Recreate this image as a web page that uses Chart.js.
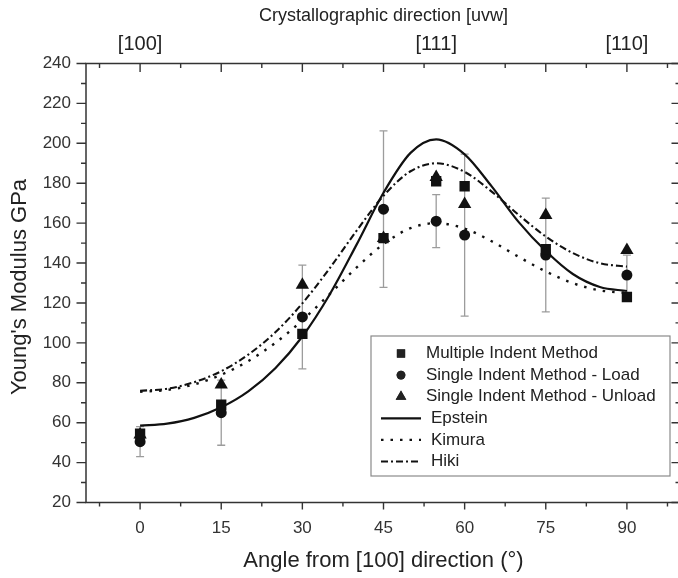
<!DOCTYPE html>
<html>
<head>
<meta charset="utf-8">
<script src="https://cdn.jsdelivr.net/npm/chart.js@4/dist/chart.umd.min.js"></script>
<style>
  html, body { margin: 0; padding: 0; overflow: hidden; background: #fff; }
  canvas { display: block; }
</style>
</head>
<body>
<canvas id="chart" width="690" height="578"></canvas>
<script>
// Angles (degrees from [100]) of the measured points
const pointAngles = [0, 15, 30, 45, 54.74, 60, 75, 90];
const multipleIndent = [54.5, 69, 104.5, 152.5, 181, 178.5, 147, 123];
const singleLoad = [50.5, 65, 113, 167, 161, 154, 144, 134];
const singleLoadErr = [7.5, 16.3, 26, 39.2, 13.3, 40.6, 28.5, 10];
const singleUnload = [54, 79, 129, 152.5, 183, 169.5, 164, 146.5];

// Model curves sampled along the angle
const curveAngles = [0, 5, 10, 15, 20, 25, 30, 35, 40, 45, 50, 54.74, 60, 65, 70, 75, 80, 85, 90];
const epstein = [58.5, 59.5, 62.4, 67.7, 75.7, 87.3, 103.2, 124, 149.1, 175.2, 195.2, 202, 194.5, 178.4, 160.5, 146, 134.5, 128, 126];
const kimura = [75.5, 76.4, 79.2, 84, 90.9, 100, 111.3, 124.3, 137.7, 149.5, 157.5, 160, 157.3, 150.9, 143.1, 135.8, 129.9, 126.3, 125];
const hiki = [76, 77, 80.3, 85.8, 94.1, 105.3, 119.8, 137.2, 156.1, 173.7, 186, 190, 185.7, 175.8, 164.1, 153.3, 145, 139.9, 138.2];

// Axis ticks and labels
const angleTicks = [0, 15, 30, 45, 60, 75, 90];
const directionAngles = [0, 54.74, 90];
const directionLabels = ['[100]', '[111]', '[110]'];

const FONT = '"Liberation Sans", Arial, Helvetica, sans-serif';
const INK = '#222';
const AXIS = '#333';

const pts = (xs, ys) => xs.map((x, i) => ({ x, y: ys[i] }));

// Error bars for the single-indent load data
const errorBars = {
  id: 'errorBars',
  beforeDatasetsDraw(chart) {
    const { ctx, scales: { x, y } } = chart;
    ctx.save();
    ctx.strokeStyle = '#9c9c9c';
    ctx.lineWidth = 1.3;
    pointAngles.forEach((a, i) => {
      const px = x.getPixelForValue(a);
      const lo = y.getPixelForValue(singleLoad[i] - singleLoadErr[i]);
      const hi = y.getPixelForValue(singleLoad[i] + singleLoadErr[i]);
      ctx.beginPath();
      ctx.moveTo(px, lo); ctx.lineTo(px, hi);
      ctx.moveTo(px - 4, lo); ctx.lineTo(px + 4, lo);
      ctx.moveTo(px - 4, hi); ctx.lineTo(px + 4, hi);
      ctx.stroke();
    });
    ctx.restore();
  }
};

// Box frame with major and minor ticks on all four sides
const frame = {
  id: 'frame',
  afterDatasetsDraw(chart) {
    const { ctx, chartArea: a, scales: { x, y } } = chart;
    ctx.save();
    ctx.strokeStyle = AXIS;
    ctx.lineWidth = 1.5;
    ctx.strokeRect(a.left, a.top, a.right - a.left, a.bottom - a.top);
    ctx.lineWidth = 1.4;
    ctx.beginPath();
    for (let v = -7.5; v <= 100; v += 7.5) {
      const major = Math.abs(v % 15) < 1e-9 && v >= 0 && v <= 90;
      const px = x.getPixelForValue(v);
      ctx.moveTo(px, a.bottom); ctx.lineTo(px, a.bottom + (major ? 7 : 4));
      ctx.moveTo(px, a.top); ctx.lineTo(px, a.top + (major ? 8.5 : 4.5));
    }
    for (let v = 20; v <= 240; v += 10) {
      const major = v % 20 === 0;
      const py = y.getPixelForValue(v);
      ctx.moveTo(a.left, py); ctx.lineTo(a.left - (major ? 9.5 : 5), py);
      ctx.moveTo(a.right, py); ctx.lineTo(a.right - (major ? 9.5 : 5.5), py);
    }
    ctx.stroke();
    ctx.restore();
  }
};

// Legend box inside the plot
const boxLegend = {
  id: 'boxLegend',
  afterDatasetsDraw(chart) {
    const { ctx } = chart;
    const left = 371, top = 336, right = 670, bottom = 476;
    ctx.save();
    ctx.fillStyle = '#fff';
    ctx.fillRect(left, top, right - left, bottom - top);
    ctx.strokeStyle = '#8a8a8a';
    ctx.lineWidth = 1.2;
    ctx.strokeRect(left, top, right - left, bottom - top);
    ctx.font = '17px ' + FONT;
    ctx.textBaseline = 'middle';
    ctx.fillStyle = INK;
    chart.data.datasets.forEach((ds, i) => {
      const rowY = 353.5 + i * 21.6;
      if (ds.showLine) {
        ctx.save();
        ctx.strokeStyle = ds.borderColor;
        ctx.lineWidth = ds.borderWidth;
        ctx.setLineDash(ds.borderDash || []);
        ctx.beginPath();
        ctx.moveTo(381, rowY); ctx.lineTo(421, rowY);
        ctx.stroke();
        ctx.restore();
        ctx.fillText(ds.label, 431, rowY);
      } else {
        Chart.helpers.drawPoint(ctx, {
          pointStyle: ds.pointStyle,
          radius: ds.legendRadius,
          borderWidth: 0
        }, 401, rowY);
        ctx.fillStyle = INK;
        ctx.fill();
        ctx.fillText(ds.label, 426, rowY);
      }
    });
    ctx.restore();
  }
};

// Rotated y-axis title
const yTitle = {
  id: 'yTitle',
  afterDraw(chart) {
    const { ctx } = chart;
    ctx.save();
    ctx.translate(20, 287);
    ctx.rotate(-Math.PI / 2);
    ctx.font = '22px ' + FONT;
    ctx.fillStyle = INK;
    ctx.textAlign = 'center';
    ctx.textBaseline = 'middle';
    ctx.fillText("Young's Modulus GPa", 0, 0);
    ctx.restore();
  }
};

const markerSet = (label, ys, style, radius) => ({
  label,
  data: pts(pointAngles, ys),
  showLine: false,
  pointStyle: style,
  pointRadius: radius,
  legendRadius: radius * 0.8,
  pointBackgroundColor: '#111',
  pointBorderColor: '#111',
  pointBorderWidth: 0,
  pointHoverRadius: radius
});

const curveSet = (label, ys, dash, width) => ({
  label,
  data: pts(curveAngles, ys),
  showLine: true,
  pointRadius: 0,
  borderColor: '#111',
  borderWidth: width,
  borderDash: dash,
  cubicInterpolationMode: 'monotone',
  fill: false
});

new Chart(document.getElementById('chart'), {
  type: 'scatter',
  data: {
    datasets: [
      markerSet('Multiple Indent Method', multipleIndent, 'rect', 7.3),
      markerSet('Single Indent Method - Load', singleLoad, 'circle', 5.5),
      markerSet('Single Indent Method - Unload', singleUnload, 'triangle', 7.7),
      curveSet('Epstein', epstein, [], 2.2),
      curveSet('Kimura', kimura, [2.5, 7], 2.4),
      curveSet('Hiki', hiki, [7, 3, 2, 3], 2.1)
    ]
  },
  options: {
    responsive: false,
    animation: false,
    devicePixelRatio: 1,
    layout: { padding: { left: 0, right: 9, top: 0, bottom: 0 } },
    plugins: {
      legend: { display: false },
      tooltip: { enabled: false }
    },
    scales: {
      x: {
        type: 'linear',
        position: 'bottom',
        min: -10,
        max: 100,
        afterBuildTicks: s => { s.ticks = angleTicks.map(v => ({ value: v })); },
        afterFit: s => { s.height = 75.5; },
        grid: { display: false, drawTicks: false },
        border: { display: false },
        ticks: {
          autoSkip: false,
          maxRotation: 0,
          padding: 16,
          color: AXIS,
          font: { family: FONT, size: 17 }
        },
        title: {
          display: true,
          text: 'Angle from [100] direction (°)',
          color: INK,
          font: { family: FONT, size: 22 },
          padding: { top: 0, bottom: 4 }
        }
      },
      x2: {
        type: 'linear',
        position: 'top',
        min: -10,
        max: 100,
        afterBuildTicks: s => { s.ticks = directionAngles.map(v => ({ value: v })); },
        afterFit: s => { s.height = 63.5; },
        grid: { display: false, drawTicks: false },
        border: { display: false },
        ticks: {
          autoSkip: false,
          maxRotation: 0,
          padding: 7,
          color: INK,
          font: { family: FONT, size: 20 },
          callback: (v, i) => directionLabels[i]
        },
        title: {
          display: true,
          text: 'Crystallographic direction [uvw]',
          color: INK,
          font: { family: FONT, size: 18 },
          padding: { top: 5, bottom: 0 }
        }
      },
      y: {
        type: 'linear',
        position: 'left',
        min: 20,
        max: 240,
        afterFit: s => { s.width = 86; },
        grid: { display: false, drawTicks: false },
        border: { display: false },
        ticks: {
          stepSize: 20,
          padding: 15,
          color: AXIS,
          font: { family: FONT, size: 17 }
        }
      }
    }
  },
  plugins: [errorBars, frame, boxLegend, yTitle]
});
</script>
</body>
</html>
